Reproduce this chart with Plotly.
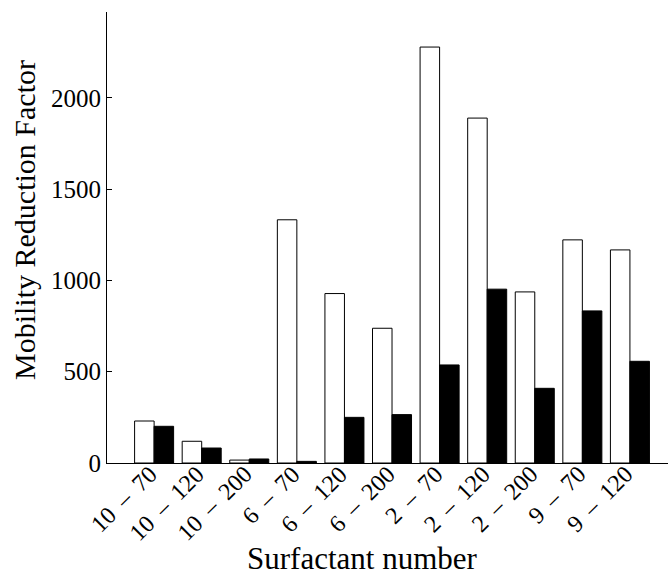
import plotly.graph_objects as go

SEP = " \u2009–\u2009 "
categories = ["10" + SEP + "70", "10" + SEP + "120", "10" + SEP + "200", "6" + SEP + "70",
              "6" + SEP + "120", "6" + SEP + "200", "2" + SEP + "70", "2" + SEP + "120",
              "2" + SEP + "200", "9" + SEP + "70", "9" + SEP + "120"]
white_vals = [230, 119, 16, 1332, 928, 738, 2278, 1889, 937, 1222, 1167]
black_vals = [201, 82, 22, 9, 250, 265, 537, 952, 409, 833, 557]
y_ticks = [0, 500, 1000, 1500, 2000]

FONT = "Liberation Serif, Times New Roman, serif"

fig = go.Figure()
fig.add_trace(go.Bar(x=categories, y=white_vals, marker=dict(color="white", line=dict(color="black", width=1)),
                     showlegend=False))
fig.add_trace(go.Bar(x=categories, y=black_vals, marker=dict(color="black", line=dict(color="black", width=1)),
                     showlegend=False))

tick_annotations = [
    dict(text=c, x=c, xref="x", y=0, yref="paper", showarrow=False,
         xanchor="right", yanchor="top", textangle=-45, xshift=11, yshift=5,
         font=dict(family=FONT, size=24, color="black"))
    for c in categories
]

fig.update_layout(
    width=668, height=578,
    margin=dict(l=107, r=0, t=12, b=115),
    paper_bgcolor="white", plot_bgcolor="white",
    barmode="group", bargap=0.18, bargroupgap=0,
    font=dict(family=FONT, color="black", size=25),
    xaxis=dict(range=[-0.99, 10.8], showline=True, linecolor="black", linewidth=1,
               ticks="", showticklabels=False, showgrid=False, zeroline=False),
    yaxis=dict(range=[0, 2470], showline=True, linecolor="black", linewidth=1,
               ticks="inside", ticklen=5, tickcolor="black", showgrid=False, zeroline=False,
               tickvals=y_ticks,
               tickfont=dict(family=FONT, size=25, color="black")),
    annotations=tick_annotations + [
        dict(text="Surfactant number", xref="paper", yref="paper", x=0.456, y=-0.211,
             showarrow=False, xanchor="center", yanchor="middle",
             font=dict(family=FONT, size=31, color="black")),
        dict(text="Mobility Reduction Factor", xref="paper", yref="paper", x=-0.146, y=0.539,
             showarrow=False, xanchor="center", yanchor="middle", textangle=-90,
             font=dict(family=FONT, size=30, color="black")),
    ],
)

fig.write_html("out.html")
